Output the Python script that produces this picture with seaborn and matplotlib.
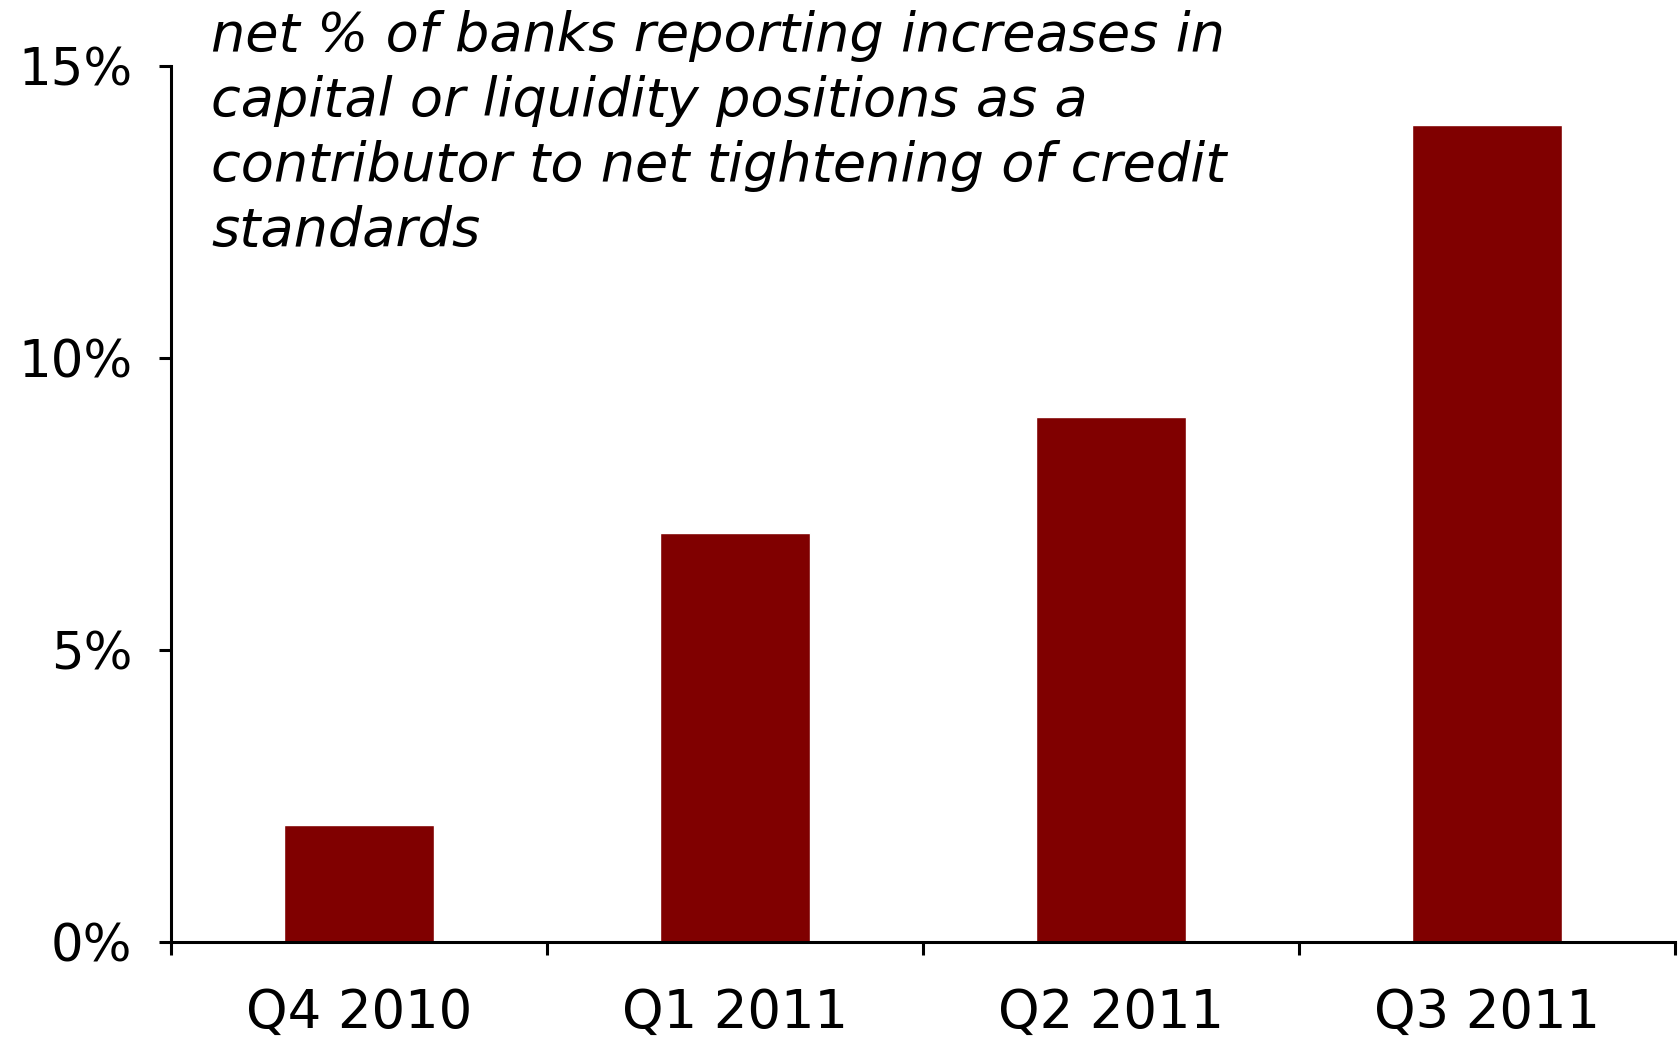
import matplotlib
matplotlib.use("Agg")
import matplotlib.pyplot as plt
import seaborn as sns
import pandas as pd
from matplotlib.ticker import FixedLocator, PercentFormatter

quarters = ["Q4 2010", "Q1 2011", "Q2 2011", "Q3 2011"]
net_pct = [2, 7, 9, 14]
y_ticks = [0, 5, 10, 15]
note = ("net % of banks reporting increases in\n"
        "capital or liquidity positions as a\n"
        "contributor to net tightening of credit\n"
        "standards")

df = pd.DataFrame({"quarter": quarters, "net": net_pct})

sns.set_theme(style="ticks")
plt.rcParams["font.family"] = ["DejaVu Sans"]

fig = plt.figure(figsize=(16.78, 10.38), dpi=100)
ax = fig.add_axes([0.102, 0.0925, 0.896, 0.8435])

sns.barplot(data=df, x="quarter", y="net", color="#800000", width=0.40,
            saturation=1, ax=ax)

ax.set_xlim(-0.5, len(quarters) - 0.5)
ax.set_ylim(0, 15)
ax.set_xlabel("")
ax.set_ylabel("")

ax.yaxis.set_major_locator(FixedLocator(y_ticks))
ax.yaxis.set_major_formatter(PercentFormatter(decimals=0))

# category boundaries carry the tick marks; labels sit at the centres
ax.xaxis.set_major_locator(FixedLocator([i - 0.5 for i in range(len(quarters) + 1)]))
ax.xaxis.set_major_formatter(plt.NullFormatter())
ax.xaxis.set_minor_locator(FixedLocator(list(range(len(quarters)))))
ax.set_xticklabels(quarters, minor=True)
ax.tick_params(axis="x", which="minor", length=0, pad=32, labelsize=38,
               labelcolor="black")
ax.tick_params(axis="x", which="major", direction="out", length=9, width=2.2,
               color="black")
ax.tick_params(axis="y", direction="out", length=9, width=2.2, pad=19,
               labelsize=37, labelcolor="black", color="black")

for side in ("top", "right"):
    ax.spines[side].set_visible(False)
for side in ("left", "bottom"):
    ax.spines[side].set_linewidth(2.2)
    ax.spines[side].set_color("black")

fig.text(0.126, 0.990, note, ha="left", va="top", fontsize=39, style="italic",
         linespacing=1.31, color="black")

fig.savefig("out.png", dpi=100, facecolor="white")
